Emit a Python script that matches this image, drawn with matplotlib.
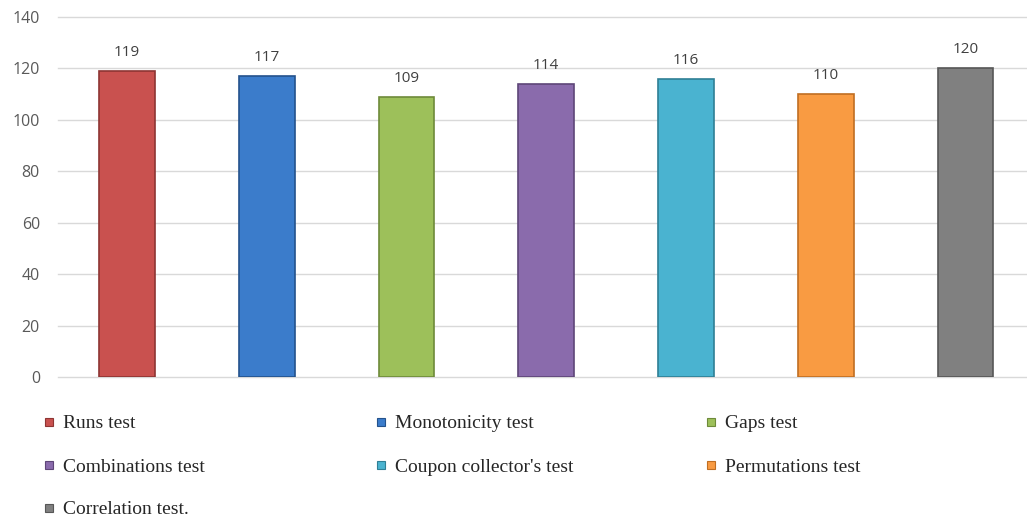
import matplotlib.pyplot as plt
from matplotlib.patches import Rectangle

# test names and number of passed runs
tests = ["Runs test", "Monotonicity test", "Gaps test", "Combinations test",
         "Coupon collector's test", "Permutations test", "Correlation test."]
passed = [119, 117, 109, 114, 116, 110, 120]
colors = ["#C9514F", "#3B7CCB", "#9DC05A", "#8A6BAC", "#4AB3D0", "#F99B42", "#808080"]
edges = ["#8E3533", "#24528C", "#6E8A3A", "#5E4678", "#2F7F95", "#C06E22", "#575757"]
yticks = [0, 20, 40, 60, 80, 100, 120, 140]

W, H = 1027, 517
fig = plt.figure(figsize=(W / 100, H / 100), dpi=100)
ax = fig.add_axes([58 / W, (H - 377) / H, 1 - 58 / W, (377 - 17) / H])

x = list(range(len(tests)))
ax.bar(x, passed, width=0.40, color=colors, edgecolor=edges, linewidth=1.2, zorder=3)
for xi, v in zip(x, passed):
    ax.annotate(str(v), (xi, v), xytext=(0, 8), textcoords="offset points",
                ha="center", va="bottom", fontsize=11, color="#404040",
                family="Open Sans")

ax.set_xlim(-0.494, 6.44)
ax.set_ylim(0, 140)
ax.set_yticks(yticks)
ax.set_xticks([])
ax.grid(axis="y", color="#D9D9D9", linewidth=1, zorder=0)
for gl in ax.get_ygridlines():
    gl.set_clip_on(False)
for s in ax.spines.values():
    s.set_visible(False)
ax.tick_params(axis="y", length=0, pad=13, labelsize=11.5, labelcolor="#595959")
for lab in ax.get_yticklabels():
    lab.set_family("Open Sans")

# legend laid out as three columns of coloured squares and labels
col_x = [45, 377, 707]
row_y = [422, 465, 508]
for i, (name, c, e) in enumerate(zip(tests, colors, edges)):
    px = col_x[i % 3]
    py = row_y[i // 3]
    fig.patches.append(Rectangle((px / W, (H - py - 4) / H), 8 / W, 8 / H,
                                 facecolor=c, edgecolor=e, linewidth=0.8,
                                 transform=fig.transFigure, figure=fig))
    fig.text((px + 18) / W, (H - py - 2) / H, name, family="Liberation Serif",
             fontsize=14, color="#262626", va="center", ha="left")

fig.savefig("out.png", dpi=100, facecolor="white")
